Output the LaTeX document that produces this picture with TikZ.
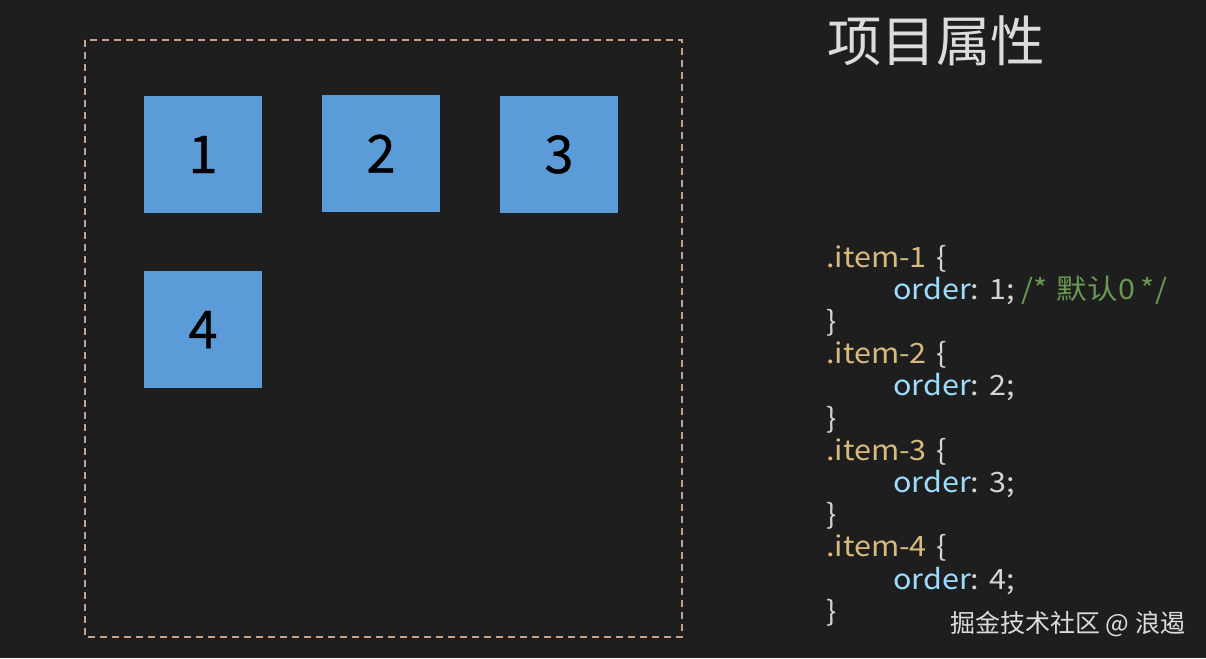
\documentclass[tikz,border=0pt]{standalone}
\usepackage{fontspec}
\setmainfont{Noto Sans CJK SC}
\newfontfamily\cjk{Noto Sans CJK SC}
\newfontfamily\codefont{Noto Sans CJK SC}[FakeStretch=1.09]
\newfontfamily\digitfont{Noto Sans CJK SC}[FakeBold=0.8]
\definecolor{bg}{HTML}{1E1E1E}
\definecolor{dashcol}{HTML}{C9A28C}
\definecolor{itemblue}{HTML}{5B9BD8}
\definecolor{selc}{HTML}{D7BA7D}
\definecolor{propc}{HTML}{9CDCFE}
\definecolor{valc}{HTML}{D4D4D4}
\definecolor{comc}{HTML}{6A9955}
\definecolor{titlec}{HTML}{DCDCDC}
\newcommand{\gp}[1]{\hspace*{#1pt}}
\begin{document}
\begin{tikzpicture}[x=1pt,y=-1pt,
  itembox/.style={fill=itemblue,minimum width=118pt,minimum height=117pt,inner sep=0pt,font=\digitfont\fontsize{52}{52}\selectfont,text=black},
  codeline/.style={anchor=base west,inner sep=0pt,font=\codefont\fontsize{28}{28}\selectfont},
]
\fill[bg] (0,0) rectangle (1206,658);
\useasboundingbox (0,0) rectangle (1206,658);
\draw[dashcol,line width=1.5pt,dash pattern=on 7pt off 5pt] (85,40) rectangle (682,637);
\node[itembox] (i1) at (203,154.5) {1};
\node[itembox] (i2) at (381,153.5) {2};
\node[itembox] (i3) at (559,154.5) {3};
\node[itembox] (i4) at (203,329.5) {4};
\node[anchor=west,inner sep=0pt,text=titlec,font=\cjk\fontsize{54.5}{54.5}\selectfont] (title) at (827,41) {项目属性};
\node[codeline] (l1) at (826,267) {\textcolor{selc}{.item-1}\gp{10}\textcolor{valc}{\{}};
\node[codeline] (l2) at (893,299.2) {\textcolor{propc}{order}\textcolor{valc}{:\gp{10}1;}\gp{7}\textcolor{comc}{/*\gp{9}默认0\gp{6}*/}};
\node[codeline] (l3) at (826,331.4) {\textcolor{valc}{\}}};
\node[codeline] (l4) at (826,363.6) {\textcolor{selc}{.item-2}\gp{10}\textcolor{valc}{\{}};
\node[codeline] (l5) at (893,395.8) {\textcolor{propc}{order}\textcolor{valc}{:\gp{10}2;}};
\node[codeline] (l6) at (826,428) {\textcolor{valc}{\}}};
\node[codeline] (l7) at (826,460.2) {\textcolor{selc}{.item-3}\gp{10}\textcolor{valc}{\{}};
\node[codeline] (l8) at (893,492.4) {\textcolor{propc}{order}\textcolor{valc}{:\gp{10}3;}};
\node[codeline] (l9) at (826,524.6) {\textcolor{valc}{\}}};
\node[codeline] (l10) at (826,556.8) {\textcolor{selc}{.item-4}\gp{10}\textcolor{valc}{\{}};
\node[codeline] (l11) at (893,589) {\textcolor{propc}{order}\textcolor{valc}{:\gp{10}4;}};
\node[codeline] (l12) at (826,621.2) {\textcolor{valc}{\}}};
\node[anchor=west,inner sep=0pt,text=titlec,font=\cjk\fontsize{25}{25}\selectfont] (wm) at (950,624) {掘金技术社区 @ 浪遏};
\end{tikzpicture}
\end{document}
